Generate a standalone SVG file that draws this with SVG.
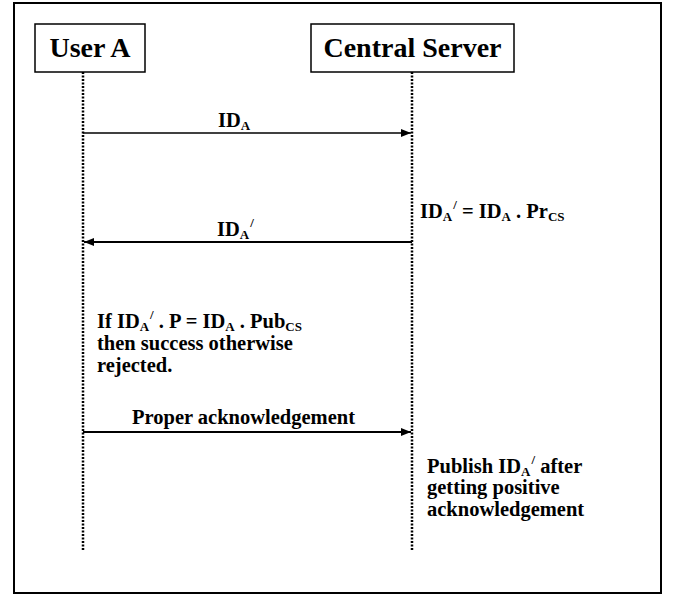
<svg xmlns="http://www.w3.org/2000/svg" width="674" height="596" viewBox="0 0 674 596">
<style>
text{font-family:"Liberation Serif","Times New Roman",serif;font-weight:bold;fill:#000}
.t{font-size:20.5px}
.h{font-size:28px}
.s{font-size:13px}
.box{fill:#fff;stroke:#000;stroke-width:1.5}
.life{stroke:#000;stroke-width:2.5;stroke-dasharray:2 1.5;fill:none}
.msg{stroke:#000;fill:none}
</style>
<defs>
<marker id="ah" viewBox="0 0 10 8" refX="10" refY="4" markerWidth="10" markerHeight="8" markerUnits="userSpaceOnUse" orient="auto">
<path d="M0,0 L10,4 L0,8 z" fill="#000"/>
</marker>
</defs>
<rect x="14" y="3" width="647" height="590" fill="#fff" stroke="#000" stroke-width="2"/>
<g id="userA">
<rect class="box" x="35" y="24" width="110" height="48"/>
<text class="h" x="90" y="57" text-anchor="middle">User A</text>
</g>
<g id="server">
<rect class="box" x="311" y="24" width="203" height="48"/>
<text class="h" x="412.5" y="57" text-anchor="middle">Central Server</text>
</g>
<g id="connectors">
<line class="life" x1="83" y1="72" x2="83" y2="551"/>
<line class="life" x1="412" y1="72" x2="412" y2="551"/>
<line class="msg" x1="83" y1="133" x2="411" y2="133" stroke-width="1.5" marker-end="url(#ah)"/>
<line class="msg" x1="412" y1="242" x2="84" y2="242" stroke-width="2" marker-end="url(#ah)"/>
<line class="msg" x1="83" y1="432" x2="411" y2="432" stroke-width="2" marker-end="url(#ah)"/>
</g>
<g id="labels">
<text class="t" x="218" y="127">ID<tspan class="s" dy="3">A</tspan></text>
<text class="t" x="217" y="236">ID<tspan class="s" dy="3">A</tspan><tspan class="s" dx="1" dy="-12">/</tspan></text>
<text class="t" x="420" y="218">ID<tspan class="s" dy="3">A</tspan><tspan class="s" dx="1" dy="-12">/</tspan><tspan dy="9"> = ID</tspan><tspan class="s" dy="3">A</tspan><tspan dy="-3"> . Pr</tspan><tspan class="s" dy="3">CS</tspan></text>
<text class="t" x="97" y="328">If ID<tspan class="s" dy="3">A</tspan><tspan class="s" dx="1" dy="-12">/</tspan><tspan dy="9"> . P = ID</tspan><tspan class="s" dy="3">A</tspan><tspan dy="-3"> . Pub</tspan><tspan class="s" dy="3">CS</tspan></text>
<text class="t" x="97" y="350">then success otherwise</text>
<text class="t" x="97" y="372">rejected.</text>
<text class="t" x="132" y="424">Proper acknowledgement</text>
<text class="t" x="427" y="473">Publish ID<tspan class="s" dy="3">A</tspan><tspan class="s" dx="1" dy="-12">/</tspan><tspan dy="9"> after</tspan></text>
<text class="t" x="427" y="494">getting positive</text>
<text class="t" x="427" y="516">acknowledgement</text>
</g>
</svg>
